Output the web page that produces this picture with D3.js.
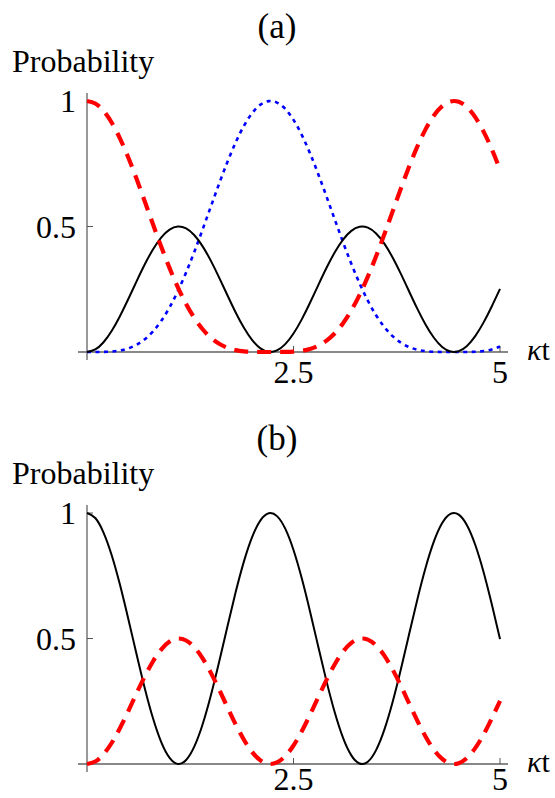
<!DOCTYPE html>
<html><head><meta charset="utf-8">
<script src="https://cdn.jsdelivr.net/npm/d3@7"></script>
<style>body{margin:0;background:#fff}svg{display:block}</style>
</head><body>
<script>
// κt sample points
const kt = [0,0.1,0.2,0.3,0.4,0.5,0.6,0.7,0.8,0.9,1.0,1.1,1.2,1.3,1.4,1.5,1.6,1.7,1.8,1.9,2.0,2.1,2.2,2.3,2.4,2.5,2.6,2.7,2.8,2.9,3.0,3.1,3.2,3.3,3.4,3.5,3.6,3.7,3.8,3.9,4.0,4.1,4.2,4.3,4.4,4.5,4.6,4.7,4.8,4.9,5.0];
// panel (a)
const aRed = [1,0.9900,0.9607,0.9134,0.8503,0.7746,0.6898,0.5996,0.5079,0.4184,0.3341,0.2577,0.1910,0.1352,0.0907,0.0568,0.0328,0.0169,0.0074,0.0026,0.0006,0.0001,0,0,0.0003,0.0015,0.0049,0.0121,0.0250,0.0454,0.0749,0.1148,0.1657,0.2278,0.3002,0.3814,0.4691,0.5603,0.6516,0.7392,0.8192,0.8880,0.9425,0.9798,0.9982,0.9967,0.9756,0.9357,0.8791,0.8084,0.7271];
const aBlue = [0,0,0.0004,0.0020,0.0061,0.0144,0.0287,0.0509,0.0825,0.1247,0.1781,0.2425,0.3169,0.3997,0.4885,0.5800,0.6708,0.7571,0.8350,0.9011,0.9520,0.9854,0.9995,0.9938,0.9686,0.9249,0.8650,0.7917,0.7085,0.6192,0.5276,0.4373,0.3515,0.2733,0.2044,0.1463,0.0993,0.0632,0.0372,0.0197,0.0090,0.0033,0.0009,0.0001,0,0,0.0002,0.0011,0.0039,0.0102,0.0217];
const aBlack = [0,0.0100,0.0389,0.0847,0.1437,0.2110,0.2815,0.3495,0.4095,0.4569,0.4878,0.4999,0.4921,0.4650,0.4209,0.3631,0.2965,0.2260,0.1575,0.0964,0.0474,0.0146,0.0005,0.0062,0.0312,0.0737,0.1301,0.1961,0.2664,0.3354,0.3975,0.4480,0.4827,0.4990,0.4954,0.4724,0.4316,0.3764,0.3113,0.2412,0.1718,0.1087,0.0567,0.0201,0.0018,0.0033,0.0243,0.0633,0.1170,0.1814,0.2512];
// panel (b)
const bBlack = [1,0.9801,0.9222,0.8307,0.7127,0.5779,0.4371,0.3011,0.1810,0.0862,0.0243,0.0002,0.0159,0.0700,0.1582,0.2737,0.4070,0.5479,0.6849,0.8073,0.9052,0.9708,0.9990,0.9876,0.9376,0.8527,0.7398,0.6078,0.4672,0.3292,0.2049,0.1040,0.0345,0.0021,0.0092,0.0553,0.1368,0.2471,0.3775,0.5177,0.6564,0.7827,0.8866,0.9598,0.9964,0.9934,0.9514,0.8735,0.7660,0.6371,0.4976];
const bRed = [0,0.0100,0.0389,0.0847,0.1437,0.2110,0.2815,0.3495,0.4095,0.4569,0.4878,0.4999,0.4921,0.4650,0.4209,0.3631,0.2965,0.2260,0.1575,0.0964,0.0474,0.0146,0.0005,0.0062,0.0312,0.0737,0.1301,0.1961,0.2664,0.3354,0.3975,0.4480,0.4827,0.4990,0.4954,0.4724,0.4316,0.3764,0.3113,0.2412,0.1718,0.1087,0.0567,0.0201,0.0018,0.0033,0.0243,0.0633,0.1170,0.1814,0.2512];
const xTicks = [2.5, 5];
const xTickLabels = ["2.5", "5"];
const yTicks = [0.5, 1];
const yTickLabels = ["0.5", "1"];

const FONT = "'Liberation Serif', 'Times New Roman', Times, serif";
const W = 555, H = 798;
const svg = d3.select("body").append("svg").attr("width", W).attr("height", H)
  .attr("font-family", FONT);

const x = d3.scaleLinear().domain([0, 5]).range([87, 500]);

function txt(g) {
  return g.append("text").attr("font-family", FONT).attr("fill", "#000");
}

function panel(title, top, xLabelY, series) {
  const g = svg.append("g").attr("transform", `translate(0,${top})`);
  const y = d3.scaleLinear().domain([0, 1]).range([352, 101]);
  txt(g).attr("x", 277).attr("y", 38).attr("text-anchor", "middle").attr("font-size", 35).text(title);
  txt(g).attr("x", 12).attr("y", 72).attr("font-size", 32).text("Probability");
  // axes
  g.append("line").attr("x1", 78).attr("x2", 508).attr("y1", y(0)).attr("y2", y(0)).attr("stroke", "#888").attr("stroke-width", 2);
  g.append("line").attr("x1", x(0)).attr("x2", x(0)).attr("y1", 93).attr("y2", 360).attr("stroke", "#555").attr("stroke-width", 1.2);
  xTicks.forEach((t, i) => {
    g.append("line").attr("x1", x(t)).attr("x2", x(t)).attr("y1", y(0)).attr("y2", y(0) - 6).attr("stroke", "#555").attr("stroke-width", 1);
    txt(g).attr("x", x(t)).attr("y", xLabelY).attr("text-anchor", "middle").attr("font-size", 32).text(xTickLabels[i]);
  });
  yTicks.forEach((t, i) => {
    g.append("line").attr("x1", x(0)).attr("x2", x(0) + 6).attr("y1", y(t)).attr("y2", y(t)).attr("stroke", "#555").attr("stroke-width", 1);
    txt(g).attr("x", 76).attr("y", y(t) + 11).attr("text-anchor", "end").attr("font-size", 32).text(yTickLabels[i]);
  });
  const kl = txt(g).attr("x", 527).attr("y", 360).attr("font-size", 30);
  kl.append("tspan").attr("font-style", "italic").text("κ");
  kl.append("tspan").text("t");
  const line = d3.line().x((d, i) => x(kt[i])).y(d => y(d)).curve(d3.curveNatural);
  series.forEach(s => {
    g.append("path").attr("d", line(s.values)).attr("fill", "none")
      .attr("stroke", s.color).attr("stroke-width", s.width)
      .attr("stroke-dasharray", s.dash || null);
  });
}

panel("(a)", 0, 383, [
  {values: aBlue, color: "#0000ff", width: 2.6, dash: "4,4.5"},
  {values: aBlack, color: "#000", width: 2},
  {values: aRed, color: "#ff0000", width: 4.2, dash: "14,9"}
]);
panel("(b)", 412, 378, [
  {values: bBlack, color: "#000", width: 2},
  {values: bRed, color: "#ff0000", width: 4.2, dash: "14,9"}
]);
</script>
</body></html>
